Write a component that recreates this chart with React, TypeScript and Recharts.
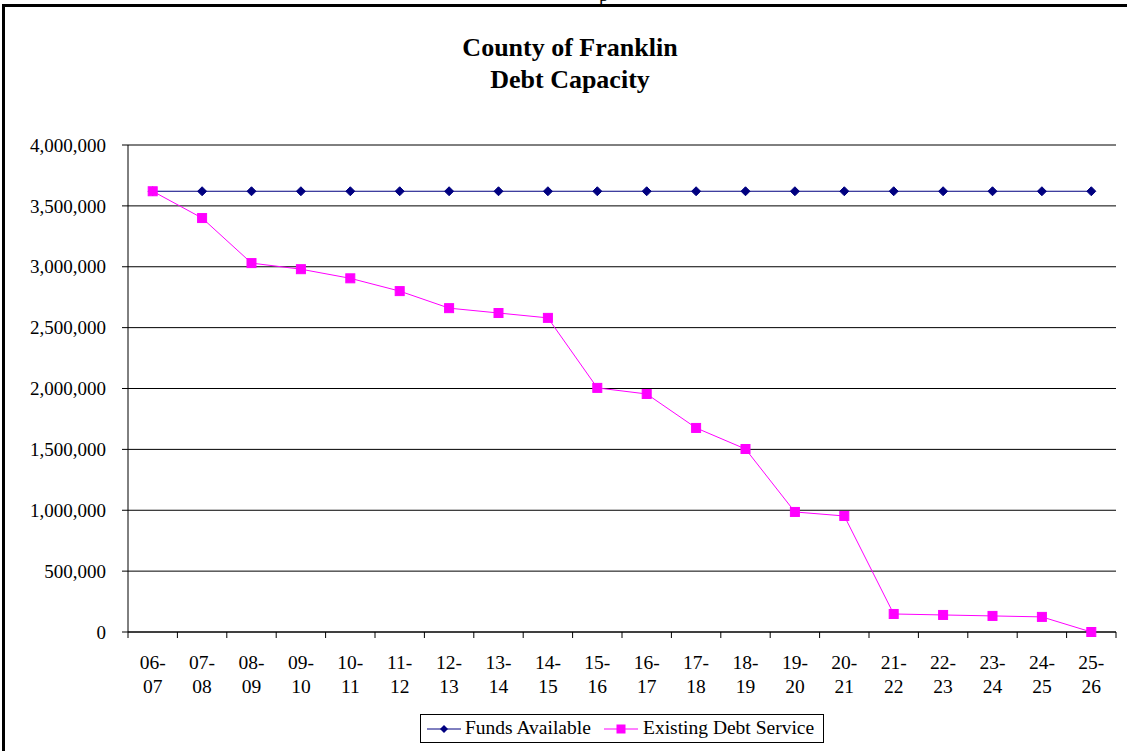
import React from 'react';
import { LineChart, Line, XAxis, YAxis, CartesianGrid, Legend } from 'recharts';

const categories = ['06-07', '07-08', '08-09', '09-10', '10-11', '11-12', '12-13', '13-14', '14-15', '15-16', '16-17', '17-18', '18-19', '19-20', '20-21', '21-22', '22-23', '23-24', '24-25', '25-26'];
const fundsAvailable = [3620000, 3620000, 3620000, 3620000, 3620000, 3620000, 3620000, 3620000, 3620000, 3620000, 3620000, 3620000, 3620000, 3620000, 3620000, 3620000, 3620000, 3620000, 3620000, 3620000];
const existingDebtService = [3620000, 3400000, 3030000, 2980000, 2905000, 2800000, 2660000, 2620000, 2580000, 2005000, 1955000, 1676000, 1503000, 986000, 953000, 148000, 140000, 132000, 124000, 0];
const yTicks = [0, 500000, 1000000, 1500000, 2000000, 2500000, 3000000, 3500000, 4000000];

const data = categories.map((c, i) => ({ period: c, funds: fundsAvailable[i], debt: existingDebtService[i] }));

const FONT = '"Liberation Serif", "Times New Roman", serif';
const NAVY = '#000080';
const MAGENTA = '#FF00FF';
const BAND = 49.4;

const Diamond = (props: any) => {
  const { cx, cy } = props;
  if (cx == null || cy == null) return null;
  const r = 4.5;
  return <polygon points={`${cx},${cy - r} ${cx + r},${cy} ${cx},${cy + r} ${cx - r},${cy}`} fill={NAVY} stroke={NAVY} />;
};

const Square = (props: any) => {
  const { cx, cy } = props;
  if (cx == null || cy == null) return null;
  const s = 9;
  return <rect x={cx - s / 2} y={cy - s / 2} width={s} height={s} fill={MAGENTA} stroke={MAGENTA} />;
};

const CategoryTick = (props: any) => {
  const { x, y, payload, index } = props;
  const count = categories.length;
  const [a, b] = String(payload.value).split('-');
  return (
    <g>
      <line x1={x - BAND / 2} y1={y} x2={x - BAND / 2} y2={y + 6} stroke="#000" strokeWidth={1} />
      {index === count - 1 && <line x1={x + BAND / 2} y1={y} x2={x + BAND / 2} y2={y + 6} stroke="#000" strokeWidth={1} />}
      <text x={x} y={y + 37} textAnchor="middle" fontFamily={FONT} fontSize={19.5} fill="#000">{a}-</text>
      <text x={x} y={y + 61} textAnchor="middle" fontFamily={FONT} fontSize={19.5} fill="#000">{b}</text>
    </g>
  );
};

const LegendBox = () => (
  <div style={{ position: 'relative', border: '1px solid #000', width: 402, height: 27, fontFamily: FONT, fontSize: 19.5, color: '#000', background: '#fff', boxSizing: 'content-box', whiteSpace: 'nowrap' }}>
    <svg width={34} height={14} style={{ position: 'absolute', left: 6, top: 7 }}>
      <line x1={0} y1={7} x2={34} y2={7} stroke={NAVY} strokeWidth={1} />
      <polygon points="17,3 21,7 17,11 13,7" fill={NAVY} />
    </svg>
    <span style={{ position: 'absolute', left: 44, top: 1, lineHeight: '24px' }}>Funds Available</span>
    <svg width={34} height={14} style={{ position: 'absolute', left: 183, top: 7 }}>
      <line x1={0} y1={7} x2={34} y2={7} stroke={MAGENTA} strokeWidth={1} />
      <rect x={12.5} y={2.5} width={9} height={9} fill={MAGENTA} />
    </svg>
    <span style={{ position: 'absolute', left: 222, top: 1, lineHeight: '24px' }}>Existing Debt Service</span>
  </div>
);

export default function App() {
  return (
    <div style={{ position: 'fixed', left: 0, top: 0, width: 1127, height: 751, background: '#fff', overflow: 'hidden' }}>
      <div style={{ position: 'absolute', left: 599, top: -16, fontFamily: FONT, fontSize: 19 }}>p</div>
      <div style={{ position: 'absolute', left: 2, top: 4, width: 1140, height: 760, borderLeft: '3px solid #000', borderTop: '3px solid #000' }} />
      <div style={{ position: 'absolute', left: 0, top: 32, width: 1140, textAlign: 'center', fontFamily: FONT, fontWeight: 'bold', fontSize: 26, lineHeight: '32px', color: '#000' }}>
        County of Franklin<br />Debt Capacity
      </div>
      <div style={{ position: 'absolute', left: 0, top: 0 }}>
        <LineChart width={1127} height={751} data={data} margin={{ top: 145, right: 11, bottom: 30, left: 0 }}>
          <CartesianGrid horizontal={true} vertical={false} stroke="#000" strokeWidth={1} />
          <XAxis dataKey="period" interval={0} padding={{ left: BAND / 2, right: BAND / 2 }} tickLine={false} tickSize={0} tickMargin={0} height={60} axisLine={{ stroke: '#000' }} tick={<CategoryTick />} />
          <YAxis domain={[0, 4000000]} ticks={yTicks} interval={0} width={128} tickSize={6} tickMargin={16} axisLine={{ stroke: '#000' }} tickLine={{ stroke: '#000' }} tick={{ fontFamily: FONT, fontSize: 19, fill: '#000' }} tickFormatter={(v: number) => v.toLocaleString('en-US')} />
          <YAxis yAxisId="right" orientation="right" width={0} tick={false} tickLine={false} axisLine={{ stroke: '#808080' }} />
          <Legend verticalAlign="bottom" content={<LegendBox />} wrapperStyle={{ position: 'absolute', left: 420, top: 714, width: 404, height: 29, bottom: 'auto' }} />
          <Line type="linear" dataKey="funds" name="Funds Available" stroke={NAVY} strokeWidth={1} dot={<Diamond />} activeDot={false} isAnimationActive={false} />
          <Line type="linear" dataKey="debt" name="Existing Debt Service" stroke={MAGENTA} strokeWidth={1} dot={<Square />} activeDot={false} isAnimationActive={false} />
        </LineChart>
      </div>
    </div>
  );
}
